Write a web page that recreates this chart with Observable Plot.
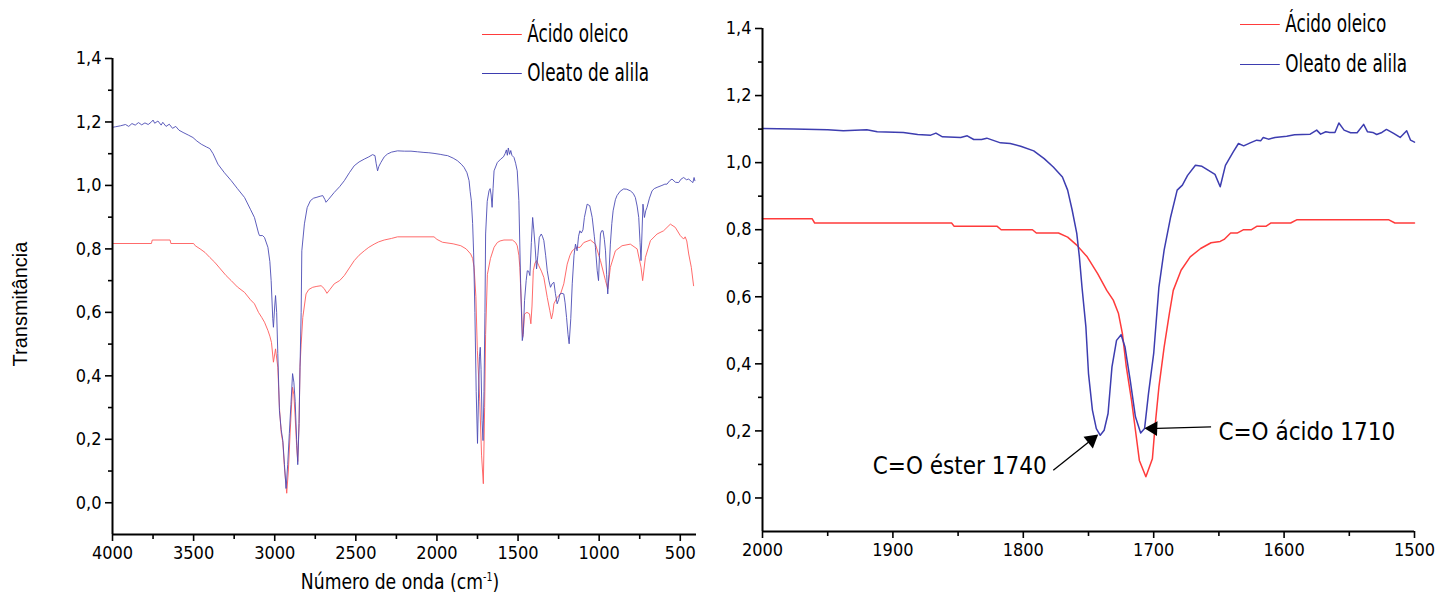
<!DOCTYPE html>
<html>
<head>
<meta charset="utf-8">
<script src="https://cdn.jsdelivr.net/npm/d3@7"></script>
<script src="https://cdn.jsdelivr.net/npm/@observablehq/plot@0.6"></script>
<style>
  html, body { margin: 0; padding: 0; background: #fff; }
  #wrap { position: relative; width: 1439px; height: 603px; overflow: hidden; background: #fff; }
  .panel { position: absolute; top: 0; }
  .narrow { font-family: "Liberation Sans Narrow", "Arial Narrow", "DejaVu Sans Condensed", sans-serif; font-stretch: condensed; }
  .lab { position: absolute; color: #000; white-space: nowrap; }
  .leg { position: absolute; display: flex; align-items: center; white-space: nowrap; color: #000; font-size: 24px; transform: scaleX(0.78); transform-origin: left center; }
  .leg i { display: inline-block; width: 51px; height: 0; border-top: 1.5px solid; margin-right: 7px; }
</style>
</head>
<body>
<div id="wrap">
  <div id="left" class="panel" style="left:0"></div>
  <div id="right" class="panel" style="left:720px"></div>
</div>
<script>
// ---------- DATA ----------
const seriesNames = ["Ácido oleico", "Oleato de alila"];
const seriesColors = ["#ff3b3b", "#3d3db0"];
const seriesColorsLight = ["#ff5a5a", "#4c4cb4"];

// Full spectrum: [wavenumber (cm-1), transmittance]
const fullAcido = [
 [4000,0.817],[3760,0.817],[3755,0.828],[3645,0.828],[3640,0.817],[3500,0.817],[3490,0.810],[3460,0.800],
 [3430,0.789],[3400,0.773],[3370,0.758],[3340,0.740],[3300,0.716],[3268,0.700],[3230,0.680],[3186,0.663],
 [3150,0.640],[3125,0.627],[3100,0.600],[3080,0.584],[3063,0.569],[3042,0.543],[3030,0.525],[3020,0.505],
 [3008,0.443],[2995,0.485],[2981,0.427],[2971,0.30],[2960,0.22],[2950,0.19],[2940,0.11],[2926,0.030],
 [2916,0.10],[2905,0.22],[2895,0.32],[2890,0.364],[2882,0.34],[2874,0.27],[2865,0.18],[2858,0.13],
 [2850,0.25],[2844,0.43],[2837,0.50],[2827,0.584],[2807,0.658],[2790,0.672],[2766,0.679],[2740,0.682],
 [2714,0.684],[2695,0.675],[2678,0.660],[2660,0.672],[2633,0.690],[2600,0.700],[2571,0.716],[2540,0.740],
 [2510,0.763],[2480,0.780],[2448,0.794],[2420,0.805],[2387,0.815],[2360,0.822],[2325,0.828],[2280,0.833],
 [2243,0.838],[2018,0.838],[2000,0.830],[1966,0.821],[1900,0.816],[1853,0.810],[1820,0.800],[1792,0.784],
 [1780,0.770],[1771,0.742],[1760,0.65],[1751,0.48],[1736,0.32],[1725,0.15],[1714,0.06],[1706,0.30],
 [1700,0.53],[1689,0.72],[1670,0.77],[1648,0.805],[1628,0.82],[1611,0.825],[1587,0.828],[1535,0.828],
 [1515,0.82],[1505,0.81],[1495,0.78],[1489,0.742],[1478,0.605],[1472,0.521],[1466,0.55],[1460,0.595],
 [1445,0.60],[1429,0.595],[1421,0.564],[1414,0.62],[1406,0.731],[1396,0.755],[1386,0.763],[1372,0.747],
 [1356,0.73],[1341,0.710],[1320,0.647],[1304,0.605],[1294,0.579],[1285,0.60],[1279,0.627],[1259,0.647],
 [1238,0.658],[1218,0.690],[1197,0.752],[1180,0.78],[1166,0.794],[1140,0.805],[1118,0.805],[1095,0.820],
 [1054,0.828],[1023,0.815],[992,0.763],[961,0.700],[947,0.674],[931,0.742],[900,0.794],[859,0.810],
 [808,0.815],[766,0.800],[742,0.742],[732,0.700],[715,0.773],[684,0.826],[643,0.847],[603,0.857],
 [561,0.878],[531,0.868],[500,0.842],[479,0.831],[470,0.838],[460,0.825],[448,0.784],[432,0.742],[418,0.684]
];
const fullOleato = [
 [4000,1.183],[3980,1.185],[3950,1.188],[3920,1.192],[3900,1.186],[3880,1.195],[3860,1.190],[3840,1.198],
 [3820,1.191],[3800,1.197],[3780,1.192],[3760,1.200],[3750,1.206],[3740,1.196],[3720,1.203],[3700,1.190],
 [3690,1.199],[3670,1.186],[3650,1.193],[3630,1.180],[3610,1.186],[3590,1.174],[3565,1.167],[3530,1.158],
 [3504,1.151],[3480,1.140],[3453,1.130],[3420,1.121],[3400,1.116],[3380,1.100],[3350,1.067],[3310,1.040],
 [3268,1.015],[3230,0.990],[3186,0.962],[3150,0.925],[3125,0.899],[3100,0.850],[3094,0.842],[3075,0.842],
 [3063,0.836],[3042,0.805],[3030,0.76],[3022,0.70],[3012,0.58],[3008,0.553],[3000,0.62],[2995,0.653],
 [2988,0.60],[2981,0.47],[2971,0.29],[2960,0.23],[2950,0.196],[2940,0.12],[2930,0.045],[2920,0.12],
 [2910,0.218],[2900,0.31],[2890,0.407],[2882,0.38],[2874,0.32],[2865,0.20],[2858,0.12],[2850,0.25],
 [2844,0.427],[2837,0.60],[2833,0.794],[2817,0.879],[2800,0.93],[2780,0.952],[2760,0.960],[2745,0.962],
 [2720,0.966],[2704,0.968],[2690,0.955],[2684,0.947],[2670,0.955],[2633,0.978],[2600,0.996],[2571,1.015],
 [2540,1.040],[2510,1.062],[2480,1.074],[2448,1.083],[2420,1.090],[2397,1.097],[2382,1.094],[2375,1.070],
 [2366,1.046],[2358,1.060],[2346,1.072],[2325,1.090],[2305,1.099],[2280,1.105],[2243,1.109],[2200,1.108],
 [2160,1.108],[2120,1.106],[2080,1.104],[2050,1.103],[2018,1.101],[1980,1.098],[1950,1.095],[1935,1.094],
 [1900,1.086],[1874,1.078],[1850,1.067],[1833,1.057],[1815,1.040],[1802,1.015],[1795,0.98],[1788,0.952],
 [1780,0.88],[1774,0.79],[1766,0.60],[1758,0.35],[1750,0.187],[1744,0.33],[1738,0.46],[1733,0.49],
 [1728,0.42],[1722,0.26],[1716,0.196],[1710,0.35],[1704,0.60],[1700,0.847],[1690,0.95],[1679,0.983],
 [1672,0.99],[1666,0.97],[1660,0.931],[1654,0.99],[1648,1.046],[1628,1.072],[1607,1.083],[1590,1.09],
 [1580,1.10],[1572,1.112],[1566,1.095],[1560,1.118],[1552,1.098],[1545,1.110],[1538,1.095],[1525,1.088],
 [1515,1.070],[1505,1.046],[1495,0.952],[1484,0.69],[1474,0.511],[1468,0.53],[1460,0.637],[1450,0.70],
 [1443,0.731],[1435,0.73],[1427,0.716],[1418,0.82],[1410,0.899],[1403,0.86],[1396,0.815],[1386,0.737],
 [1378,0.78],[1369,0.836],[1357,0.847],[1350,0.84],[1341,0.826],[1330,0.78],[1320,0.731],[1310,0.70],
 [1300,0.679],[1290,0.69],[1279,0.695],[1270,0.66],[1259,0.627],[1250,0.64],[1242,0.658],[1230,0.66],
 [1218,0.658],[1210,0.63],[1201,0.584],[1192,0.53],[1185,0.501],[1175,0.58],[1166,0.69],[1155,0.78],
 [1146,0.815],[1136,0.794],[1127,0.84],[1119,0.857],[1110,0.85],[1100,0.86],[1091,0.899],[1074,0.941],
 [1058,0.936],[1043,0.899],[1030,0.84],[1023,0.805],[1012,0.731],[1004,0.70],[998,0.78],[992,0.847],
 [985,0.857],[976,0.857],[968,0.83],[961,0.794],[954,0.72],[947,0.658],[940,0.72],[931,0.815],
 [922,0.88],[914,0.920],[900,0.955],[890,0.968],[870,0.982],[849,0.989],[830,0.988],[808,0.983],
 [790,0.975],[777,0.962],[766,0.935],[756,0.899],[748,0.82],[742,0.763],[736,0.85],[730,0.941],
 [721,0.899],[713,0.92],[705,0.931],[690,0.96],[674,0.983],[660,0.99],[643,0.994],[613,1.000],
 [595,1.004],[582,1.004],[565,1.015],[551,1.020],[530,1.010],[510,1.009],[495,1.020],[479,1.025],
 [462,1.018],[448,1.020],[430,1.012],[422,1.009],[415,1.025],[410,1.015]
];

// Carbonyl region detail
const zoomAcido = [
 [2000,0.833],[1962,0.833],[1960,0.820],[1855,0.820],[1853,0.810],[1820,0.810],[1817,0.800],[1793,0.800],
 [1790,0.790],[1773,0.790],[1766,0.778],[1759,0.754],[1751,0.719],[1743,0.669],[1736,0.619],[1731,0.590],
 [1727,0.550],[1724,0.490],[1721,0.391],[1717,0.291],[1714,0.202],[1711,0.112],[1706,0.063],[1701,0.117],
 [1699,0.212],[1696,0.331],[1692,0.450],[1688,0.550],[1685,0.619],[1679,0.679],[1672,0.719],[1664,0.744],
 [1656,0.761],[1649,0.765],[1646,0.771],[1641,0.790],[1636,0.790],[1631,0.800],[1625,0.800],[1621,0.810],
 [1614,0.810],[1610,0.820],[1595,0.820],[1590,0.830],[1520,0.830],[1515,0.820],[1500,0.820]
];
const zoomOleato = [
 [2000,1.102],[1976,1.100],[1950,1.098],[1938,1.095],[1920,1.098],[1912,1.092],[1892,1.090],[1881,1.084],
 [1871,1.082],[1867,1.088],[1862,1.077],[1848,1.075],[1843,1.080],[1838,1.069],[1832,1.069],[1828,1.073],
 [1817.5,1.059],[1810,1.057],[1802,1.049],[1792,1.035],[1784,1.012],[1777,0.987],[1770,0.957],[1766,0.918],
 [1762.5,0.858],[1759,0.789],[1757,0.719],[1755,0.629],[1752,0.510],[1750,0.371],[1747,0.262],[1744,0.207],
 [1741,0.187],[1738,0.202],[1735,0.252],[1732,0.391],[1728.5,0.470],[1725,0.487],[1722,0.450],[1718,0.351],
 [1714,0.242],[1710,0.194],[1707,0.207],[1704,0.311],[1700,0.431],[1696,0.629],[1692,0.739],[1687,0.838],
 [1682,0.918],[1678,0.933],[1674,0.962],[1668,0.992],[1663,0.989],[1658,0.977],[1653,0.965],[1649,0.928],
 [1645,0.992],[1639,1.032],[1635,1.057],[1631,1.050],[1626,1.059],[1621,1.067],[1618,1.065],[1616,1.075],
 [1612,1.070],[1607,1.075],[1598,1.079],[1592,1.083],[1580,1.085],[1575,1.097],[1572,1.085],[1568,1.092],
 [1565,1.090],[1561,1.090],[1558,1.118],[1554,1.097],[1549,1.089],[1544,1.089],[1539,1.114],[1536,1.092],
 [1532,1.090],[1529,1.084],[1525,1.090],[1521.5,1.099],[1516,1.087],[1511,1.075],[1506,1.095],[1503,1.067],
 [1500,1.061]
];

const yTicks = [0, 0.2, 0.4, 0.6, 0.8, 1.0, 1.2, 1.4];
const yMinor = [0.1, 0.3, 0.5, 0.7, 0.9, 1.1, 1.3];
const fullXTicks = [4000, 3500, 3000, 2500, 2000, 1500, 1000, 500];
const fullXMinor = [3750, 3250, 2750, 2250, 1750, 1250, 750];
const zoomXTicks = [2000, 1900, 1800, 1700, 1600, 1500];
const zoomXMinor = [1950, 1850, 1750, 1650, 1550];
const xLabel = "Número de onda (cm";
const yLabel = "Transmitância";
const annEster = "C=O éster 1740";
const annAcido = "C=O ácido 1710";

// ---------- DRAW ----------
const FONT = '"Liberation Sans Narrow", "Arial Narrow", "DejaVu Sans Condensed", sans-serif';
const comma = d => d.toFixed(1).replace(".", ",");
const toRows = (arr, s) => arr.map(([x, y]) => ({x, y, s}));

function panel({width, height, ml, mr, mt, mb, xDomain, xTicks, xMinor, acid, ester, sw, colors, extra}) {
  return Plot.plot({
    width, height,
    marginLeft: ml, marginRight: mr, marginTop: mt, marginBottom: mb,
    style: {fontFamily: FONT, fontSize: "18px", color: "#000", background: "transparent", overflow: "visible", fontStretch: "condensed"},
    x: {domain: xDomain},
    y: {domain: [-0.1, 1.4]},
    color: {domain: seriesNames, range: colors},
    marks: [
      Plot.line(toRows(acid, seriesNames[0]), {x: "x", y: "y", stroke: "s", strokeWidth: sw, curve: "linear"}),
      Plot.line(toRows(ester, seriesNames[1]), {x: "x", y: "y", stroke: "s", strokeWidth: sw, curve: "linear"}),
      Plot.axisY({ticks: yTicks, tickSize: 7, tickPadding: 4, tickFormat: comma, label: null, strokeWidth: 1.6}),
      Plot.axisY({ticks: yMinor, tickSize: 4, text: null, label: null, strokeWidth: 1.6}),
      Plot.axisX({ticks: xTicks, tickSize: 7, tickPadding: 5, tickFormat: d => String(d), label: null, strokeWidth: 1.6}),
      Plot.axisX({ticks: xMinor, tickSize: 5, text: null, label: null, strokeWidth: 1.6}),
      Plot.ruleX([xDomain[0]], {stroke: "#000", strokeWidth: 2}),
      Plot.ruleY([-0.1], {stroke: "#000", strokeWidth: 2}),
      ...(extra || [])
    ]
  });
}

const left = panel({
  width: 720, height: 603, ml: 112, mr: 24, mt: 58, mb: 69,
  xDomain: [4000, 400], xTicks: fullXTicks, xMinor: fullXMinor,
  acid: fullAcido, ester: fullOleato, sw: 0.9, colors: seriesColorsLight
});
document.getElementById("left").appendChild(left);

const right = panel({
  width: 719, height: 603, ml: 42, mr: 25, mt: 28, mb: 72,
  xDomain: [2000, 1500], xTicks: zoomXTicks, xMinor: zoomXMinor,
  acid: zoomAcido, ester: zoomOleato, sw: 1.5, colors: seriesColors,
  extra: [
    Plot.text([annEster], {x: 1782, y: 0.095, text: d => d, textAnchor: "end", fontSize: 24, fill: "#000"}),
    Plot.text([annAcido], {x: 1655, y: 0.197, text: d => d, textAnchor: "start", fontSize: 24, fill: "#000", dx: 6}),
    Plot.link([annEster], {x1: 1777, y1: 0.083, x2: 1745, y2: 0.182, stroke: "#000", strokeWidth: 1.3}),
    Plot.link([annAcido], {x1: 1656, y1: 0.212, x2: 1704, y2: 0.207, stroke: "#000", strokeWidth: 1.3}),
    Plot.dot([annEster], {x: 1745, y: 0.182, symbol: "triangle", r: 5.5, fill: "#000", stroke: "none", rotate: 51, dx: -3.5, dy: 3}),
    Plot.dot([annAcido], {x: 1704, y: 0.207, symbol: "triangle", r: 5.5, fill: "#000", stroke: "none", rotate: -88, dx: 4.5})
  ]
});
document.getElementById("right").appendChild(right);

// titles and legends (HTML text)
const wrap = document.getElementById("wrap");
function addDiv(html, css, cls) {
  const d = document.createElement("div");
  d.className = cls;
  d.innerHTML = html;
  Object.assign(d.style, css);
  wrap.appendChild(d);
  return d;
}
addDiv(yLabel, {left: "20px", top: "304px", fontFamily: '"Liberation Sans", Arial, sans-serif', fontSize: "20px",
  transform: "translate(-50%,-50%) rotate(-90deg)"}, "lab");
addDiv(xLabel + "<sup style='font-size:12px'>-1</sup>)", {left: "400px", top: "569px", fontSize: "22px", transform: "translateX(-50%) scaleX(0.87)"}, "lab narrow");

function legend(x, y1, y2) {
  addDiv(`<i style="border-color:${seriesColors[0]}"></i>${seriesNames[0]}`, {left: x + "px", top: (y1 - 16) + "px"}, "leg narrow");
  addDiv(`<i style="border-color:${seriesColors[1]}"></i>${seriesNames[1]}`, {left: x + "px", top: (y2 - 16) + "px"}, "leg narrow");
}
legend(482, 36, 75);
legend(1240, 26, 66);
</script>
</body>
</html>
